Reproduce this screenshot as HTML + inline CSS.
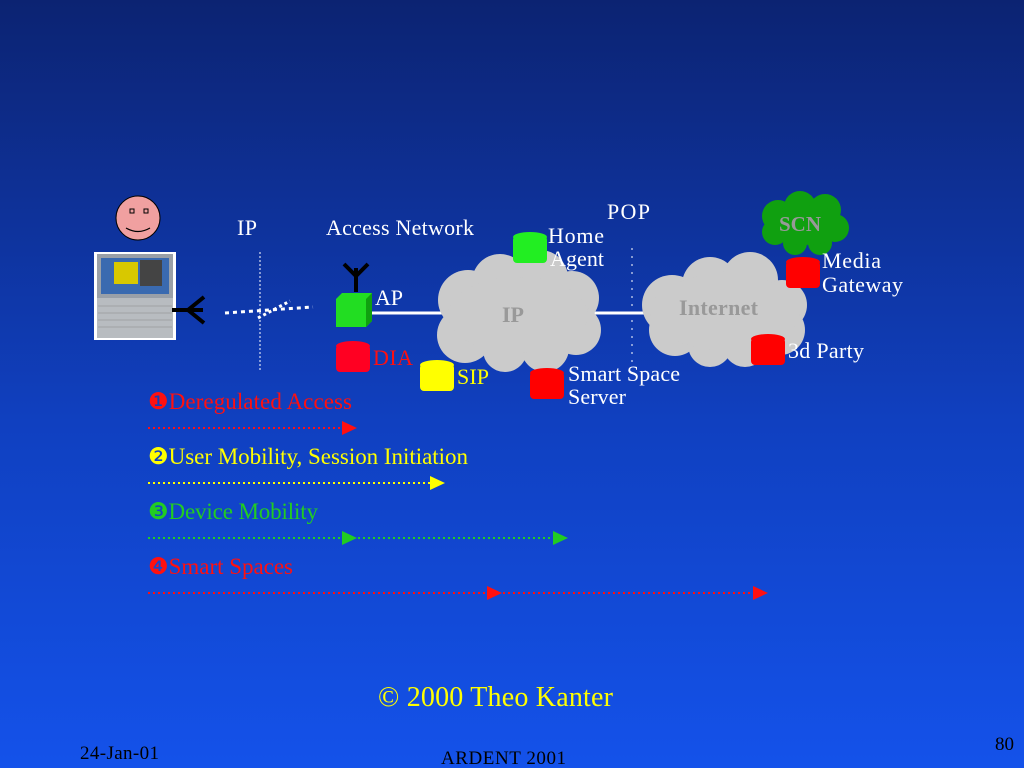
<!DOCTYPE html>
<html><head><style>
body{margin:0;width:1024px;height:768px;overflow:hidden;background:linear-gradient(#0c2372,#1040c0 55%,#1452ea);}
svg{position:absolute;left:0;top:0}
text{font-family:"Liberation Serif",serif;}
</style></head><body>
<svg width="1024" height="768" viewBox="0 0 1024 768">
<defs>
<g id="cyl"><rect x="0" y="5" width="34" height="27" rx="4" /><ellipse cx="17" cy="6" rx="17" ry="5"/></g>
</defs>
<circle cx="138" cy="218" r="22" fill="#f0a0a0" stroke="#000" stroke-width="1"/>
<rect x="130" y="209" width="4" height="4" fill="none" stroke="#000"/>
<rect x="144" y="209" width="4" height="4" fill="none" stroke="#000"/>
<path d="M126 228 Q138 235 150 228" fill="none" stroke="#000" stroke-width="1.2"/>
<rect x="94" y="252" width="82" height="88" fill="#fff"/>
<rect x="97" y="254" width="76" height="44" fill="#9aa0a8"/>
<rect x="101" y="258" width="68" height="36" fill="#3a6ab0"/>
<rect x="114" y="262" width="24" height="22" fill="#d8c800"/>
<rect x="140" y="260" width="22" height="26" fill="#444"/>
<rect x="97" y="298" width="76" height="40" fill="#b8bcc0"/>
<g stroke="#888" stroke-width="0.6">
<line x1="98" y1="306" x2="172" y2="306"/><line x1="98" y1="313" x2="172" y2="313"/><line x1="98" y1="320" x2="172" y2="320"/><line x1="98" y1="327" x2="172" y2="327"/></g>
<g stroke="#000" stroke-width="4" fill="none"><line x1="172" y1="310" x2="203" y2="310"/><path d="M204 297 L188 310 L204 323"/></g>
<line x1="225" y1="313" x2="313" y2="307" stroke="#fff" stroke-width="3" stroke-dasharray="4 4"/>
<line x1="258" y1="318" x2="290" y2="301" stroke="#fff" stroke-width="3" stroke-dasharray="3 3"/>
<line x1="260" y1="252" x2="260" y2="372" stroke="#fff" stroke-dasharray="2 2"/>
<line x1="632" y1="248" x2="632" y2="362" stroke="#fff" stroke-dasharray="2 6"/>
<g stroke="#000" stroke-width="4" fill="none"><line x1="356" y1="268" x2="356" y2="292"/><path d="M344 264 L356 276 L368 264"/></g>
<polygon points="336,299 342,293 372,293 372,321 366,327 336,327" fill="#22dd22"/>
<polygon points="366,299 372,293 372,321 366,327" fill="#10a010"/>
<line x1="372" y1="313" x2="660" y2="313" stroke="#fff" stroke-width="3"/>
<g fill="#cbcbcb">
<circle cx="468" cy="300" r="30"/><circle cx="500" cy="282" r="28"/><circle cx="540" cy="278" r="28"/><circle cx="572" cy="298" r="27"/>
<circle cx="576" cy="330" r="25"/><circle cx="545" cy="348" r="24"/><circle cx="505" cy="350" r="22"/><circle cx="465" cy="335" r="28"/>
<ellipse cx="518" cy="315" rx="70" ry="38"/></g>
<text x="502" y="322" font-size="22" font-weight="bold" fill="#999">IP</text>
<g fill="#cbcbcb">
<circle cx="672" cy="305" r="30"/><circle cx="710" cy="285" r="28"/><circle cx="750" cy="280" r="28"/><circle cx="782" cy="305" r="25"/>
<circle cx="780" cy="330" r="25"/><circle cx="745" cy="345" r="22"/><circle cx="710" cy="345" r="22"/><circle cx="675" cy="330" r="26"/>
<ellipse cx="725" cy="312" rx="75" ry="38"/></g>
<text x="679" y="315" font-size="22" font-weight="bold" fill="#999" textLength="79">Internet</text>
<g fill="#10a010">
<circle cx="778" cy="216" r="16"/><circle cx="800" cy="207" r="16"/><circle cx="825" cy="210" r="16"/><circle cx="835" cy="228" r="14"/><circle cx="820" cy="243" r="12"/><circle cx="795" cy="243" r="12"/><circle cx="775" cy="232" r="13"/><ellipse cx="805" cy="225" rx="40" ry="20"/></g>
<text x="779" y="231" font-size="21" font-weight="bold" fill="#999">SCN</text>
<use href="#cyl" x="513" y="231" fill="#22ee22"/>
<use href="#cyl" x="336" y="340" fill="#ff0022"/>
<use href="#cyl" x="420" y="359" fill="#ffff00"/>
<use href="#cyl" x="530" y="367" fill="#ff0000"/>
<use href="#cyl" x="786" y="256" fill="#ff0000"/>
<use href="#cyl" x="751" y="333" fill="#ff0000"/>
<g font-size="22" fill="#fff">
<text x="237" y="235" textLength="20">IP</text>
<text x="326" y="235" textLength="148">Access Network</text>
<text x="607" y="219" textLength="43">POP</text>
<text x="548" y="243" textLength="56">Home</text><text x="550" y="266" textLength="54">Agent</text>
<text x="375" y="305" textLength="28">AP</text>
<text x="822" y="268" textLength="59">Media</text><text x="822" y="292" textLength="81">Gateway</text>
<text x="788" y="358" textLength="76">3d Party</text>
<text x="568" y="381" textLength="112">Smart Space</text><text x="568" y="404" textLength="58">Server</text>
</g>
<text x="373" y="365" font-size="22" fill="#ff1010" textLength="40">DIA</text>
<text x="457" y="384" font-size="22" fill="#ffff00" textLength="32">SIP</text>
<g font-size="23">
<text x="148" y="409" fill="#ff1010" textLength="204">❶Deregulated Access</text>
<text x="148" y="464" fill="#ffff00" textLength="320">❷User Mobility, Session Initiation</text>
<text x="148" y="519" fill="#22cc22" textLength="170">❸Device Mobility</text>
<text x="148" y="574" fill="#ff1010" textLength="145">❹Smart Spaces</text>
</g>
<g stroke-width="2" stroke-dasharray="2 3">
<line x1="148" y1="428" x2="345" y2="428" stroke="#ff1010"/>
<line x1="148" y1="483" x2="432" y2="483" stroke="#ffff00"/>
<line x1="148" y1="538" x2="556" y2="538" stroke="#22cc22"/>
<line x1="148" y1="593" x2="756" y2="593" stroke="#ff1010"/>
</g>
<polygon points="342,421 357,428 342,435" fill="#ff1010"/>
<polygon points="430,476 445,483 430,490" fill="#ffff00"/>
<polygon points="342,531 357,538 342,545" fill="#22cc22"/>
<polygon points="553,531 568,538 553,545" fill="#22cc22"/>
<polygon points="487,586 502,593 487,600" fill="#ff1010"/>
<polygon points="753,586 768,593 753,600" fill="#ff1010"/>
<text x="378" y="706" font-size="28" fill="#ffff00" textLength="235">© 2000 Theo Kanter</text>
<text x="80" y="759" font-size="19" fill="#000" textLength="79">24-Jan-01</text>
<text x="441" y="764" font-size="19" fill="#000" textLength="125">ARDENT 2001</text>
<text x="995" y="750" font-size="19" fill="#000">80</text>
</svg>
</body></html>
